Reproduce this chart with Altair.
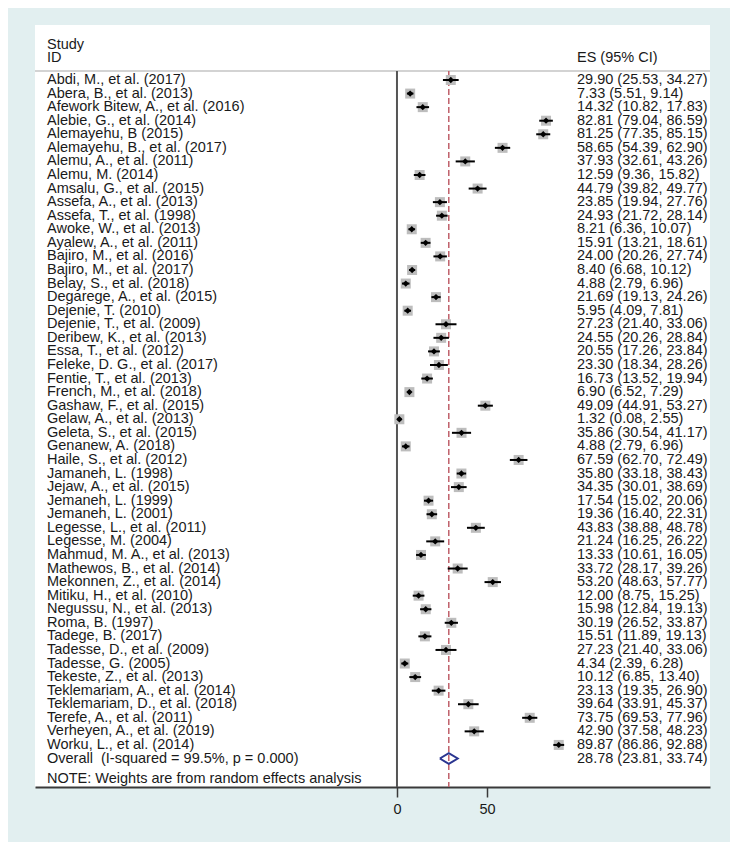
import altair as alt
import pandas as pd

studies = [
    "Abdi, M., et al. (2017)", "Abera, B., et al. (2013)", "Afework Bitew, A., et al. (2016)",
    "Alebie, G., et al. (2014)", "Alemayehu, B (2015)", "Alemayehu, B., et al. (2017)",
    "Alemu, A., et al. (2011)", "Alemu, M. (2014)", "Amsalu, G., et al. (2015)",
    "Assefa, A., et al. (2013)", "Assefa, T., et al. (1998)", "Awoke, W., et al. (2013)",
    "Ayalew, A., et al. (2011)", "Bajiro, M., et al. (2016)", "Bajiro, M., et al. (2017)",
    "Belay, S., et al. (2018)", "Degarege, A., et al. (2015)", "Dejenie, T. (2010)",
    "Dejenie, T., et al. (2009)", "Deribew, K., et al. (2013)", "Essa, T., et al. (2012)",
    "Feleke, D. G., et al. (2017)", "Fentie, T., et al. (2013)", "French, M., et al. (2018)",
    "Gashaw, F., et al. (2015)", "Gelaw, A., et al. (2013)", "Geleta, S., et al. (2015)",
    "Genanew, A. (2018)", "Haile, S., et al. (2012)", "Jamaneh, L. (1998)",
    "Jejaw, A., et al. (2015)", "Jemaneh, L. (1999)", "Jemaneh, L. (2001)",
    "Legesse, L., et al. (2011)", "Legesse, M. (2004)", "Mahmud, M. A., et al. (2013)",
    "Mathewos, B., et al. (2014)", "Mekonnen, Z., et al. (2014)", "Mitiku, H., et al. (2010)",
    "Negussu, N., et al. (2013)", "Roma, B. (1997)", "Tadege, B. (2017)",
    "Tadesse, D., et al. (2009)", "Tadesse, G. (2005)", "Tekeste, Z., et al. (2013)",
    "Teklemariam, A., et al. (2014)", "Teklemariam, D., et al. (2018)", "Terefe, A., et al. (2011)",
    "Verheyen, A., et al. (2019)", "Worku, L., et al. (2014)",
]
es = [29.90, 7.33, 14.32, 82.81, 81.25, 58.65, 37.93, 12.59, 44.79, 23.85,
      24.93, 8.21, 15.91, 24.00, 8.40, 4.88, 21.69, 5.95, 27.23, 24.55,
      20.55, 23.30, 16.73, 6.90, 49.09, 1.32, 35.86, 4.88, 67.59, 35.80,
      34.35, 17.54, 19.36, 43.83, 21.24, 13.33, 33.72, 53.20, 12.00, 15.98,
      30.19, 15.51, 27.23, 4.34, 10.12, 23.13, 39.64, 73.75, 42.90, 89.87]
lcl = [25.53, 5.51, 10.82, 79.04, 77.35, 54.39, 32.61, 9.36, 39.82, 19.94,
       21.72, 6.36, 13.21, 20.26, 6.68, 2.79, 19.13, 4.09, 21.40, 20.26,
       17.26, 18.34, 13.52, 6.52, 44.91, 0.08, 30.54, 2.79, 62.70, 33.18,
       30.01, 15.02, 16.40, 38.88, 16.25, 10.61, 28.17, 48.63, 8.75, 12.84,
       26.52, 11.89, 21.40, 2.39, 6.85, 19.35, 33.91, 69.53, 37.58, 86.86]
ucl = [34.27, 9.14, 17.83, 86.59, 85.15, 62.90, 43.26, 15.82, 49.77, 27.76,
       28.14, 10.07, 18.61, 27.74, 10.12, 6.96, 24.26, 7.81, 33.06, 28.84,
       23.84, 28.26, 19.94, 7.29, 53.27, 2.55, 41.17, 6.96, 72.49, 38.43,
       38.69, 20.06, 22.31, 48.78, 26.22, 16.05, 39.26, 57.77, 15.25, 19.13,
       33.87, 19.13, 33.06, 6.28, 13.40, 26.90, 45.37, 77.96, 48.23, 92.88]

overall_label = "Overall\u00a0 (I-squared = 99.5%, p = 0.000)"
overall_es, overall_lcl, overall_ucl = 28.78, 23.81, 33.74
note_text = "NOTE: Weights are from random effects analysis"
x_ticks = [0, 50]

FONT = "Liberation Sans"
TXT = "#1a1a1a"
W, H = 675, 762

rows = list(range(1, len(studies) + 1))
overall_row = len(studies) + 1

df = pd.DataFrame({
    "study": studies, "es": es, "lcl": lcl, "ucl": ucl, "row": rows,
    "label": [f"{e:.2f} ({l:.2f}, {u:.2f})" for e, l, u in zip(es, lcl, ucl)],
})
ov = pd.DataFrame({
    "study": [overall_label], "row": [overall_row],
    "label": [f"{overall_es:.2f} ({overall_lcl:.2f}, {overall_ucl:.2f})"],
})
dh = 0.4
diamond = pd.DataFrame({
    "x": [overall_lcl, overall_es, overall_ucl, overall_es, overall_lcl],
    "y": [overall_row, overall_row - dh, overall_row, overall_row + dh, overall_row],
    "o": [0, 1, 2, 3, 4],
})
one = pd.DataFrame({"a": [0]})

xscale = alt.Scale(domain=[-201.1, 173.9], nice=False, zero=False)
yscale = alt.Scale(domain=[-3.053, 53.10], reverse=True, nice=False, zero=False)

xaxis = alt.Axis(values=x_ticks, grid=False, title=None, domainColor="#3a3a3a",
                 domainWidth=2, tickColor="#3a3a3a", tickWidth=1.5, tickSize=10,
                 labelFont=FONT, labelFontSize=14.5, labelColor=TXT, labelPadding=5)

base = alt.Chart(df)

zero_line = alt.Chart(one).mark_rule(color="#555555", strokeWidth=2).encode(
    x=alt.X("datum_zero:Q", scale=xscale, axis=xaxis),
    y=alt.value(46), y2=alt.value(H),
).transform_calculate(datum_zero="0")

ref_line = alt.Chart(one).mark_rule(color="#c0606a", strokeWidth=1.5, strokeDash=[6, 3]).encode(
    x=alt.datum(overall_es, scale=xscale),
    y=alt.value(46), y2=alt.value(H),
)

sep = alt.Chart(one).mark_rule(color="#d3d3d3", strokeWidth=2).encode(
    x=alt.value(0), x2=alt.value(W), y=alt.value(46),
)

squares = base.mark_square(color="#bdbdbd", size=100, opacity=1).encode(
    x=alt.X("es:Q", scale=xscale), y=alt.Y("row:Q", scale=yscale, axis=None),
)
ci = base.mark_rule(color="black", strokeWidth=2).encode(
    x=alt.X("lcl:Q", scale=xscale), x2="ucl:Q", y=alt.Y("row:Q", scale=yscale),
)
pts = base.mark_point(shape="diamond", filled=True, color="black", size=40, opacity=1).encode(
    x=alt.X("es:Q", scale=xscale), y=alt.Y("row:Q", scale=yscale),
)
dia = alt.Chart(diamond).mark_line(color="#2a3590", strokeWidth=2).encode(
    x=alt.X("x:Q", scale=xscale), y=alt.Y("y:Q", scale=yscale), order="o:Q",
)

txt_kw = dict(font=FONT, fontSize=14.5, color=TXT, baseline="middle", align="left")
left_txt = base.mark_text(**txt_kw).encode(
    x=alt.value(12), y=alt.Y("row:Q", scale=yscale), text="study:N")
right_txt = base.mark_text(**txt_kw).encode(
    x=alt.value(542), y=alt.Y("row:Q", scale=yscale), text="label:N")
ov_left = alt.Chart(ov).mark_text(**txt_kw).encode(
    x=alt.value(12), y=alt.Y("row:Q", scale=yscale), text="study:N")
ov_right = alt.Chart(ov).mark_text(**txt_kw).encode(
    x=alt.value(542), y=alt.Y("row:Q", scale=yscale), text="label:N")

hdr = pd.DataFrame({"t": ["Study", "ID", "ES (95% CI)", note_text],
                    "px": [12, 12, 542, 12], "py": [20, 33, 33, 754]})
headers = alt.Chart(hdr).mark_text(**txt_kw).encode(
    x=alt.X("px:Q", scale=None), y=alt.Y("py:Q", scale=None), text="t:N")

chart = alt.layer(
    sep, zero_line, ref_line, squares, ci, pts, dia,
    left_txt, right_txt, ov_left, ov_right, headers,
).properties(
    width=W, height=H,
    background="#e2eff0",
    padding={"left": 27, "top": 17, "right": 20, "bottom": 55},
    autosize=alt.AutoSizeParams(type="none"),
).configure_view(fill="white", stroke=None)

chart.save("out.html", embed_options={"renderer": "svg", "actions": False})
